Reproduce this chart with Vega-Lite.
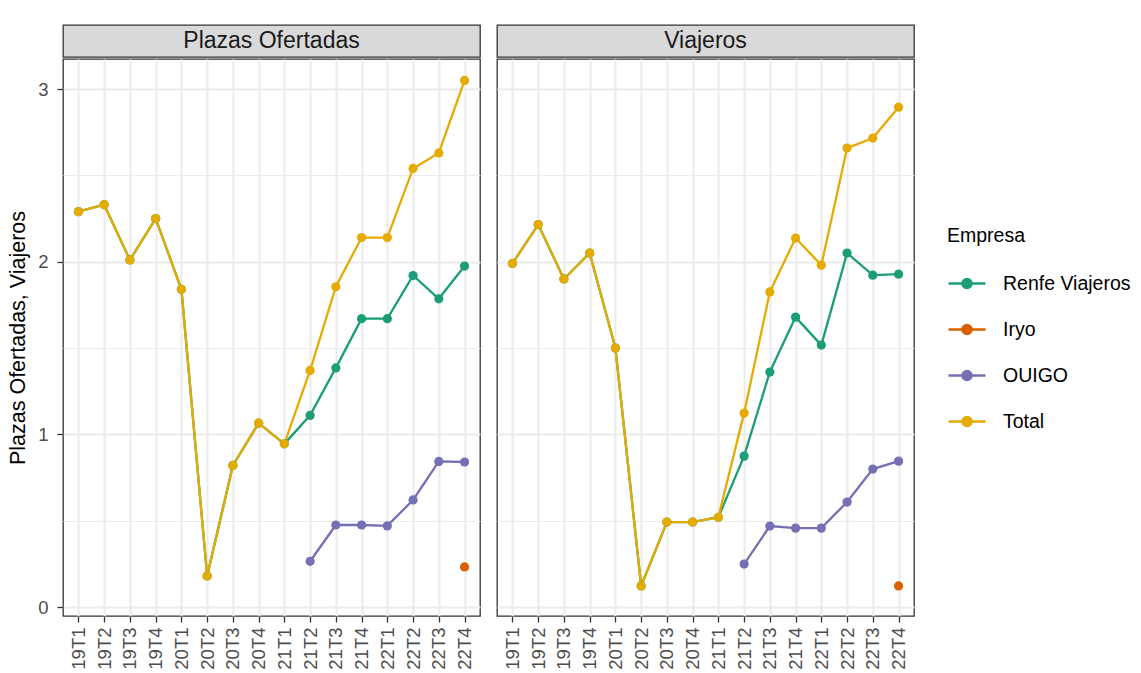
{
  "$schema": "https://vega.github.io/schema/vega-lite/v6.json",
  "padding": {"left": 7, "top": 24, "right": 0, "bottom": 0},
  "background": "white",
  "config": {
    "font": "Liberation Sans",
    "view": {"stroke": "#333333", "strokeWidth": 1.3},
    "axis": {
      "domain": false,
      "gridColor": "#EBEBEB",
      "tickColor": "#333333",
      "tickWidth": 1.3,
      "labelColor": "#4D4D4D",
      "labelFont": "Liberation Sans",
      "labelFontSize": 18.5,
      "titleFont": "Liberation Sans",
      "titleFontSize": 21.5,
      "titleFontWeight": "normal",
      "titleColor": "#000000"
    }
  },
  "datasets": {
    "d": [
      {"q": "19T1", "panel": "Plazas Ofertadas", "Empresa": "Renfe Viajeros", "v": 2.29},
      {"q": "19T2", "panel": "Plazas Ofertadas", "Empresa": "Renfe Viajeros", "v": 2.33},
      {"q": "19T3", "panel": "Plazas Ofertadas", "Empresa": "Renfe Viajeros", "v": 2.01},
      {"q": "19T4", "panel": "Plazas Ofertadas", "Empresa": "Renfe Viajeros", "v": 2.25},
      {"q": "20T1", "panel": "Plazas Ofertadas", "Empresa": "Renfe Viajeros", "v": 1.84},
      {"q": "20T2", "panel": "Plazas Ofertadas", "Empresa": "Renfe Viajeros", "v": 0.18},
      {"q": "20T3", "panel": "Plazas Ofertadas", "Empresa": "Renfe Viajeros", "v": 0.82},
      {"q": "20T4", "panel": "Plazas Ofertadas", "Empresa": "Renfe Viajeros", "v": 1.065},
      {"q": "21T1", "panel": "Plazas Ofertadas", "Empresa": "Renfe Viajeros", "v": 0.945},
      {"q": "21T2", "panel": "Plazas Ofertadas", "Empresa": "Renfe Viajeros", "v": 1.11},
      {"q": "21T3", "panel": "Plazas Ofertadas", "Empresa": "Renfe Viajeros", "v": 1.385},
      {"q": "21T4", "panel": "Plazas Ofertadas", "Empresa": "Renfe Viajeros", "v": 1.67},
      {"q": "22T1", "panel": "Plazas Ofertadas", "Empresa": "Renfe Viajeros", "v": 1.67},
      {"q": "22T2", "panel": "Plazas Ofertadas", "Empresa": "Renfe Viajeros", "v": 1.92},
      {"q": "22T3", "panel": "Plazas Ofertadas", "Empresa": "Renfe Viajeros", "v": 1.785},
      {"q": "22T4", "panel": "Plazas Ofertadas", "Empresa": "Renfe Viajeros", "v": 1.975},
      {"q": "19T1", "panel": "Viajeros", "Empresa": "Renfe Viajeros", "v": 1.99},
      {"q": "19T2", "panel": "Viajeros", "Empresa": "Renfe Viajeros", "v": 2.215},
      {"q": "19T3", "panel": "Viajeros", "Empresa": "Renfe Viajeros", "v": 1.9},
      {"q": "19T4", "panel": "Viajeros", "Empresa": "Renfe Viajeros", "v": 2.05},
      {"q": "20T1", "panel": "Viajeros", "Empresa": "Renfe Viajeros", "v": 1.5},
      {"q": "20T2", "panel": "Viajeros", "Empresa": "Renfe Viajeros", "v": 0.122},
      {"q": "20T3", "panel": "Viajeros", "Empresa": "Renfe Viajeros", "v": 0.492},
      {"q": "20T4", "panel": "Viajeros", "Empresa": "Renfe Viajeros", "v": 0.492},
      {"q": "21T1", "panel": "Viajeros", "Empresa": "Renfe Viajeros", "v": 0.52},
      {"q": "21T2", "panel": "Viajeros", "Empresa": "Renfe Viajeros", "v": 0.874},
      {"q": "21T3", "panel": "Viajeros", "Empresa": "Renfe Viajeros", "v": 1.361},
      {"q": "21T4", "panel": "Viajeros", "Empresa": "Renfe Viajeros", "v": 1.679},
      {"q": "22T1", "panel": "Viajeros", "Empresa": "Renfe Viajeros", "v": 1.517},
      {"q": "22T2", "panel": "Viajeros", "Empresa": "Renfe Viajeros", "v": 2.05},
      {"q": "22T3", "panel": "Viajeros", "Empresa": "Renfe Viajeros", "v": 1.922},
      {"q": "22T4", "panel": "Viajeros", "Empresa": "Renfe Viajeros", "v": 1.928},
      {"q": "22T4", "panel": "Plazas Ofertadas", "Empresa": "Iryo", "v": 0.232},
      {"q": "22T4", "panel": "Viajeros", "Empresa": "Iryo", "v": 0.122},
      {"q": "21T2", "panel": "Plazas Ofertadas", "Empresa": "OUIGO", "v": 0.265},
      {"q": "21T3", "panel": "Plazas Ofertadas", "Empresa": "OUIGO", "v": 0.475},
      {"q": "21T4", "panel": "Plazas Ofertadas", "Empresa": "OUIGO", "v": 0.475},
      {"q": "22T1", "panel": "Plazas Ofertadas", "Empresa": "OUIGO", "v": 0.47},
      {"q": "22T2", "panel": "Plazas Ofertadas", "Empresa": "OUIGO", "v": 0.62},
      {"q": "22T3", "panel": "Plazas Ofertadas", "Empresa": "OUIGO", "v": 0.843},
      {"q": "22T4", "panel": "Plazas Ofertadas", "Empresa": "OUIGO", "v": 0.84},
      {"q": "21T2", "panel": "Viajeros", "Empresa": "OUIGO", "v": 0.249},
      {"q": "21T3", "panel": "Viajeros", "Empresa": "OUIGO", "v": 0.469},
      {"q": "21T4", "panel": "Viajeros", "Empresa": "OUIGO", "v": 0.457},
      {"q": "22T1", "panel": "Viajeros", "Empresa": "OUIGO", "v": 0.457},
      {"q": "22T2", "panel": "Viajeros", "Empresa": "OUIGO", "v": 0.608},
      {"q": "22T3", "panel": "Viajeros", "Empresa": "OUIGO", "v": 0.799},
      {"q": "22T4", "panel": "Viajeros", "Empresa": "OUIGO", "v": 0.845},
      {"q": "19T1", "panel": "Plazas Ofertadas", "Empresa": "Total", "v": 2.29},
      {"q": "19T2", "panel": "Plazas Ofertadas", "Empresa": "Total", "v": 2.33},
      {"q": "19T3", "panel": "Plazas Ofertadas", "Empresa": "Total", "v": 2.01},
      {"q": "19T4", "panel": "Plazas Ofertadas", "Empresa": "Total", "v": 2.25},
      {"q": "20T1", "panel": "Plazas Ofertadas", "Empresa": "Total", "v": 1.84},
      {"q": "20T2", "panel": "Plazas Ofertadas", "Empresa": "Total", "v": 0.18},
      {"q": "20T3", "panel": "Plazas Ofertadas", "Empresa": "Total", "v": 0.82},
      {"q": "20T4", "panel": "Plazas Ofertadas", "Empresa": "Total", "v": 1.065},
      {"q": "21T1", "panel": "Plazas Ofertadas", "Empresa": "Total", "v": 0.945},
      {"q": "21T2", "panel": "Plazas Ofertadas", "Empresa": "Total", "v": 1.37},
      {"q": "21T3", "panel": "Plazas Ofertadas", "Empresa": "Total", "v": 1.855},
      {"q": "21T4", "panel": "Plazas Ofertadas", "Empresa": "Total", "v": 2.14},
      {"q": "22T1", "panel": "Plazas Ofertadas", "Empresa": "Total", "v": 2.14},
      {"q": "22T2", "panel": "Plazas Ofertadas", "Empresa": "Total", "v": 2.54},
      {"q": "22T3", "panel": "Plazas Ofertadas", "Empresa": "Total", "v": 2.63},
      {"q": "22T4", "panel": "Plazas Ofertadas", "Empresa": "Total", "v": 3.05},
      {"q": "19T1", "panel": "Viajeros", "Empresa": "Total", "v": 1.99},
      {"q": "19T2", "panel": "Viajeros", "Empresa": "Total", "v": 2.215},
      {"q": "19T3", "panel": "Viajeros", "Empresa": "Total", "v": 1.9},
      {"q": "19T4", "panel": "Viajeros", "Empresa": "Total", "v": 2.05},
      {"q": "20T1", "panel": "Viajeros", "Empresa": "Total", "v": 1.5},
      {"q": "20T2", "panel": "Viajeros", "Empresa": "Total", "v": 0.122},
      {"q": "20T3", "panel": "Viajeros", "Empresa": "Total", "v": 0.492},
      {"q": "20T4", "panel": "Viajeros", "Empresa": "Total", "v": 0.492},
      {"q": "21T1", "panel": "Viajeros", "Empresa": "Total", "v": 0.52},
      {"q": "21T2", "panel": "Viajeros", "Empresa": "Total", "v": 1.123},
      {"q": "21T3", "panel": "Viajeros", "Empresa": "Total", "v": 1.825},
      {"q": "21T4", "panel": "Viajeros", "Empresa": "Total", "v": 2.137},
      {"q": "22T1", "panel": "Viajeros", "Empresa": "Total", "v": 1.98},
      {"q": "22T2", "panel": "Viajeros", "Empresa": "Total", "v": 2.658},
      {"q": "22T3", "panel": "Viajeros", "Empresa": "Total", "v": 2.716},
      {"q": "22T4", "panel": "Viajeros", "Empresa": "Total", "v": 2.895}
    ]
  },
  "spacing": 15,
  "resolve": {"scale": {"color": "shared"}, "legend": {"color": "shared"}},
  "hconcat": [
    {
      "spacing": 0,
      "vconcat": [
        {
          "width": 417,
          "height": 32,
          "view": {"fill": "#D9D9D9", "stroke": "#333333", "strokeWidth": 1.3},
          "data": {"values": [{"panel": "Plazas Ofertadas"}]},
          "mark": {"type": "text", "fontSize": 23, "color": "#1A1A1A", "font": "Liberation Sans"},
          "encoding": {"text": {"field": "panel", "type": "nominal"}}
        },
        {
          "width": 417,
          "height": 557,
          "data": {"name": "d"},
          "transform": [{"filter": "datum.panel === 'Plazas Ofertadas'"}],
          "encoding": {
            "x": {
              "field": "q", "type": "ordinal",
              "scale": {"type": "point", "padding": 0.6},
              "axis": {"title": null, "labelAngle": -90, "tickSize": 6, "labelPadding": 5, "gridWidth": 2, "grid": true}
            },
            "y": {
              "field": "v", "type": "quantitative",
              "scale": {"domain": [-0.052, 3.174], "nice": false, "zero": false},
              "axis": {
                "title": "Plazas Ofertadas, Viajeros",
                "values": [0, 0.5, 1, 1.5, 2, 2.5, 3],
                "labelExpr": "datum.value % 1 === 0 ? format(datum.value, 'd') : ''",
                "tickSize": 6,
                "tickOpacity": {"condition": {"test": "datum.value % 1 !== 0", "value": 0}, "value": 1},
                "gridWidth": {"condition": {"test": "datum.value % 1 !== 0", "value": 1.2}, "value": 2},
                "labelPadding": 9,
                "titlePadding": 8
              }
            },
            "color": {
              "field": "Empresa", "type": "nominal",
              "scale": {"domain": ["Renfe Viajeros", "Iryo", "OUIGO", "Total"], "range": ["#1B9E77", "#D95F02", "#7570B3", "#E6AB02"]},
              "legend": {
                "orient": "none", "legendX": 884, "legendY": 202,
                "title": "Empresa", "titleFontSize": 19.5, "titleFont": "Liberation Sans", "titleFontWeight": "normal", "titleColor": "#000000", "titlePadding": 17,
                "labelFontSize": 19.5, "labelFont": "Liberation Sans", "labelColor": "#000000", "labelOffset": 16,
                "symbolType": "M-1,0H1M-0.25,0A0.25,0.25 0 1,1 0.25,0A0.25,0.25 0 1,1 -0.25,0",
                "symbolSize": 1369, "symbolStrokeWidth": 2.3, "rowPadding": 16, "padding": 0,
                "encode": {"symbols": {"update": {"fill": {"scale": "color", "field": "value"}, "stroke": {"scale": "color", "field": "value"}, "opacity": {"value": 1}}}}
              }
            }
          },
          "layer": [
            {"transform": [{"filter": "datum.Empresa !== 'Total'"}], "mark": {"type": "line", "strokeWidth": 2.3}},
            {"transform": [{"filter": "datum.Empresa === 'Total'"}], "mark": {"type": "line", "strokeWidth": 2.3}},
            {"mark": {"type": "circle", "size": 85, "opacity": 1}}
          ]
        }
      ]
    },
    {
      "spacing": 0,
      "vconcat": [
        {
          "width": 417,
          "height": 32,
          "view": {"fill": "#D9D9D9", "stroke": "#333333", "strokeWidth": 1.3},
          "data": {"values": [{"panel": "Viajeros"}]},
          "mark": {"type": "text", "fontSize": 23, "color": "#1A1A1A", "font": "Liberation Sans"},
          "encoding": {"text": {"field": "panel", "type": "nominal"}}
        },
        {
          "width": 417,
          "height": 557,
          "data": {"name": "d"},
          "transform": [{"filter": "datum.panel === 'Viajeros'"}],
          "encoding": {
            "x": {
              "field": "q", "type": "ordinal",
              "scale": {"type": "point", "padding": 0.6},
              "axis": {"title": null, "labelAngle": -90, "tickSize": 6, "labelPadding": 5, "gridWidth": 2, "grid": true}
            },
            "y": {
              "field": "v", "type": "quantitative",
              "scale": {"domain": [-0.052, 3.174], "nice": false, "zero": false},
              "axis": {
                "title": null,
                "values": [0, 0.5, 1, 1.5, 2, 2.5, 3],
                "labels": false,
                "ticks": false,
                "gridWidth": {"condition": {"test": "datum.value % 1 !== 0", "value": 1.2}, "value": 2}
              }
            },
            "color": {
              "field": "Empresa", "type": "nominal",
              "scale": {"domain": ["Renfe Viajeros", "Iryo", "OUIGO", "Total"], "range": ["#1B9E77", "#D95F02", "#7570B3", "#E6AB02"]},
              "legend": {
                "orient": "none", "legendX": 884, "legendY": 202,
                "title": "Empresa", "titleFontSize": 19.5, "titleFont": "Liberation Sans", "titleFontWeight": "normal", "titleColor": "#000000", "titlePadding": 17,
                "labelFontSize": 19.5, "labelFont": "Liberation Sans", "labelColor": "#000000", "labelOffset": 16,
                "symbolType": "M-1,0H1M-0.25,0A0.25,0.25 0 1,1 0.25,0A0.25,0.25 0 1,1 -0.25,0",
                "symbolSize": 1369, "symbolStrokeWidth": 2.3, "rowPadding": 16, "padding": 0,
                "encode": {"symbols": {"update": {"fill": {"scale": "color", "field": "value"}, "stroke": {"scale": "color", "field": "value"}, "opacity": {"value": 1}}}}
              }
            }
          },
          "layer": [
            {"transform": [{"filter": "datum.Empresa !== 'Total'"}], "mark": {"type": "line", "strokeWidth": 2.3}},
            {"transform": [{"filter": "datum.Empresa === 'Total'"}], "mark": {"type": "line", "strokeWidth": 2.3}},
            {"mark": {"type": "circle", "size": 85, "opacity": 1}}
          ]
        }
      ]
    }
  ]
}
